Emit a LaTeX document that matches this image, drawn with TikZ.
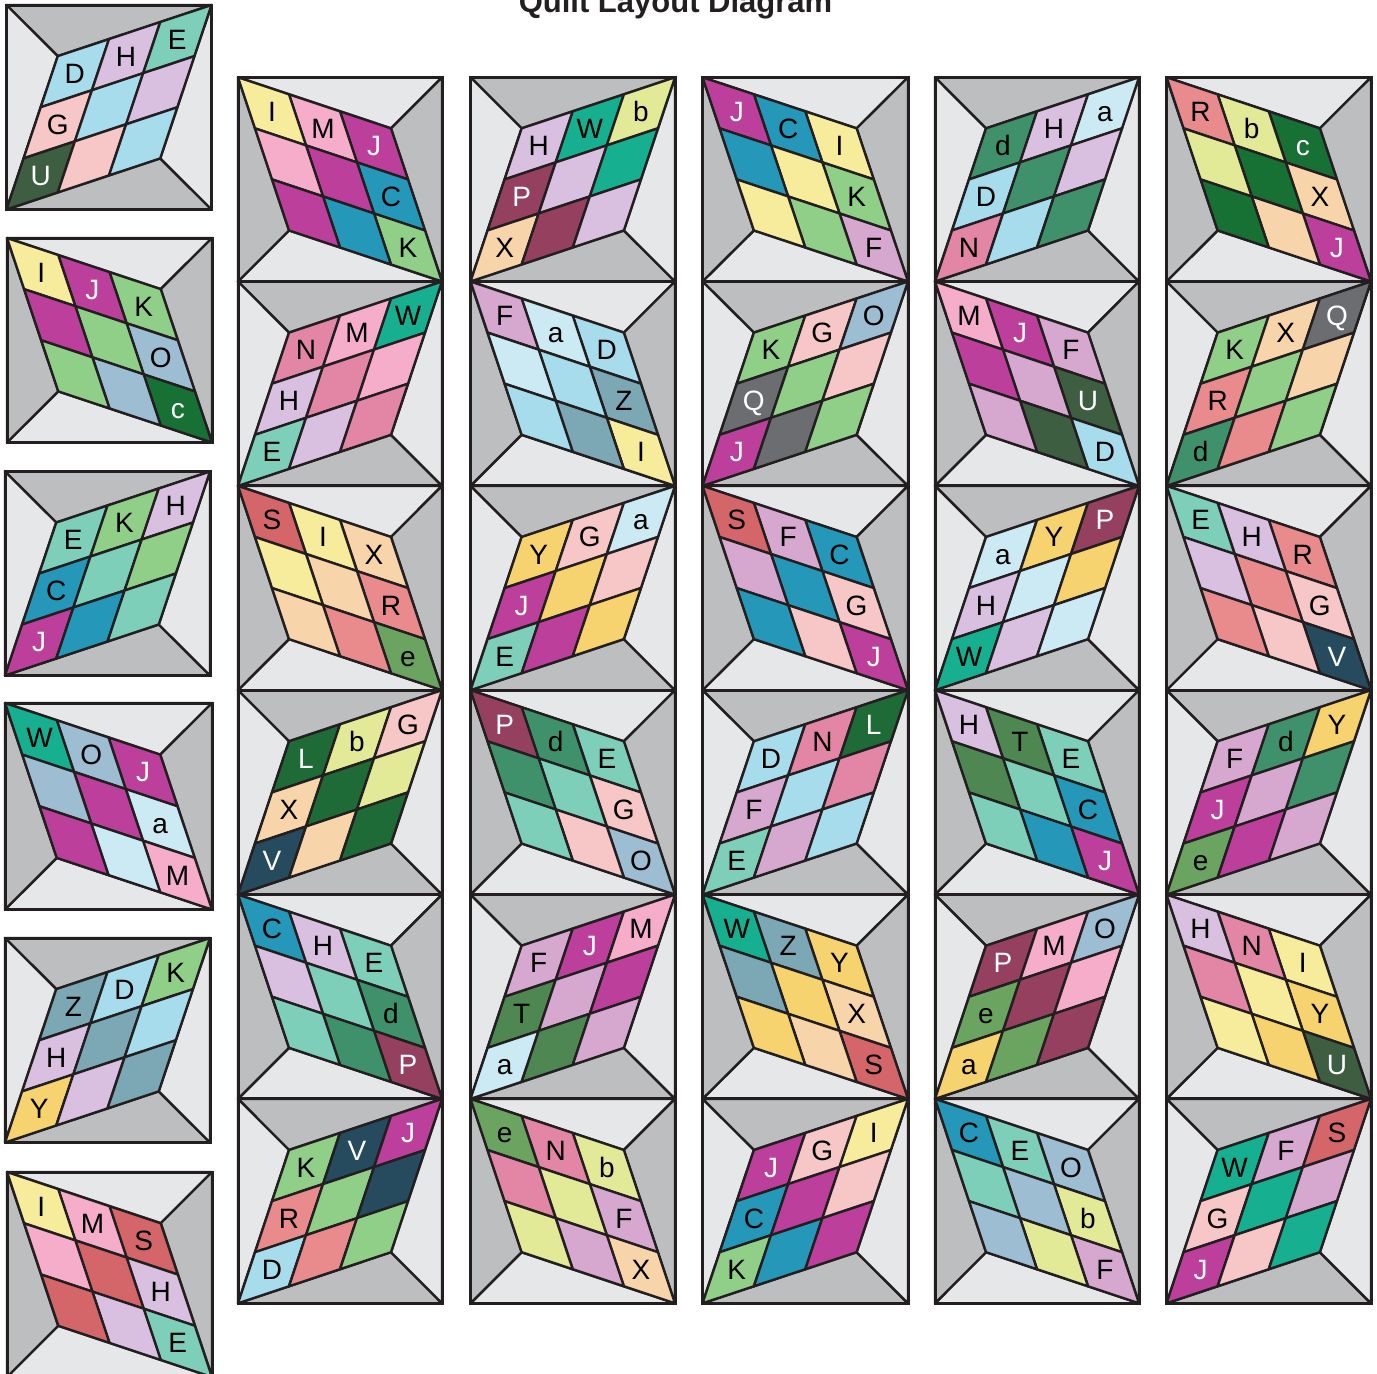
\documentclass[tikz,border=0pt]{standalone}
\usepackage{fontspec}
\setmainfont{Liberation Sans}
\definecolor{qline}{HTML}{231F20}
\definecolor{qdark}{HTML}{BCBEC0}
\definecolor{qlight}{HTML}{E6E7E8}
\newcommand\qdef[3]{\definecolor{qc#1}{HTML}{#2}\colorlet{qt#1}{#3}}
\qdef{C}{2597B8}{black}
\qdef{D}{A6DCEC}{black}
\qdef{E}{7ECFBA}{black}
\qdef{F}{D6A8D0}{black}
\qdef{G}{F7C6C6}{black}
\qdef{H}{D9C0E0}{black}
\qdef{I}{F7EC9C}{black}
\qdef{J}{BB3F9B}{white}
\qdef{K}{90CF88}{black}
\qdef{L}{1E6B37}{white}
\qdef{M}{F5ADCA}{black}
\qdef{N}{E386A6}{black}
\qdef{O}{9DBDD3}{black}
\qdef{P}{964060}{white}
\qdef{Q}{6C6D70}{white}
\qdef{R}{E98A8D}{black}
\qdef{S}{D4666A}{black}
\qdef{T}{4E8752}{black}
\qdef{U}{3D5E41}{white}
\qdef{V}{264A5E}{white}
\qdef{W}{16B091}{black}
\qdef{X}{F8D4AA}{black}
\qdef{Y}{F6D36E}{black}
\qdef{Z}{7BA8B4}{black}
\qdef{a}{CBEAF3}{black}
\qdef{b}{E2E997}{black}
\qdef{c}{177034}{white}
\qdef{d}{3F916B}{black}
\qdef{e}{6BA461}{black}
\tikzset{
  qtri/.style={draw=qline, line width=2.4pt, line join=round},
  qcell/.style={draw=qline, line width=2.4pt, line join=round},
  qbox/.style={draw=qline, line width=3pt, line join=miter},
  qlab/.style={inner sep=0pt, font=\fontsize{28}{30}\selectfont, text height=20pt, text depth=0pt},
  qtitle/.style={font=\bfseries\fontsize{31}{33}\selectfont, text=qline, anchor=base, inner sep=0pt}
}
% labels
\def\qsplit#1#2#3#4#5\relax{%
  \expandafter\def\csname qT0\endcsname{#1}%
  \expandafter\def\csname qT1\endcsname{#2}%
  \expandafter\def\csname qT2\endcsname{#3}%
  \expandafter\def\csname qT-1\endcsname{#4}%
  \expandafter\def\csname qT-2\endcsname{#5}}
% fabric colours
\def\qsplitc#1#2#3#4#5\relax{%
  \expandafter\def\csname qK0\endcsname{#1}%
  \expandafter\def\csname qK1\endcsname{#2}%
  \expandafter\def\csname qK2\endcsname{#3}%
  \expandafter\def\csname qK-1\endcsname{#4}%
  \expandafter\def\csname qK-2\endcsname{#5}}
\newcommand\qblock[8]{%
  \qsplit#7\relax
  \qsplitc#8\relax
  \pgfmathsetmacro\qw{#4-(#2)}%
  \pgfmathsetmacro\qh{#5-(#3)}%
  \if#6F%
    \pgfmathsetmacro\qAx{#2+0.25*\qw}%
    \pgfmathsetmacro\qAy{#3+0.25*\qh}%
    \pgfmathsetmacro\qBx{#2+0.75*\qw}%
    \pgfmathsetmacro\qBy{#3+0.75*\qh}%
    \pgfmathsetmacro\qux{(#4-\qAx)/3}%
    \pgfmathsetmacro\quy{(#3-\qAy)/3}%
    \pgfmathsetmacro\qvx{(#2-\qAx)/3}%
    \pgfmathsetmacro\qvy{(#5-\qAy)/3}%
    \filldraw[qtri,fill=qdark] (#2,#3) -- (#4,#3) -- (\qAx,\qAy) -- cycle;
    \filldraw[qtri,fill=qlight] (#2,#3) -- (\qAx,\qAy) -- (#2,#5) -- cycle;
    \filldraw[qtri,fill=qdark] (#2,#5) -- (#4,#5) -- (\qBx,\qBy) -- cycle;
    \filldraw[qtri,fill=qlight] (#4,#3) -- (#4,#5) -- (\qBx,\qBy) -- cycle;
  \else
    \pgfmathsetmacro\qAx{#2+0.75*\qw}%
    \pgfmathsetmacro\qAy{#3+0.25*\qh}%
    \pgfmathsetmacro\qBx{#2+0.25*\qw}%
    \pgfmathsetmacro\qBy{#3+0.75*\qh}%
    \pgfmathsetmacro\qux{(#2-\qAx)/3}%
    \pgfmathsetmacro\quy{(#3-\qAy)/3}%
    \pgfmathsetmacro\qvx{(#4-\qAx)/3}%
    \pgfmathsetmacro\qvy{(#5-\qAy)/3}%
    \filldraw[qtri,fill=qlight] (#2,#3) -- (#4,#3) -- (\qAx,\qAy) -- cycle;
    \filldraw[qtri,fill=qdark] (#4,#3) -- (#4,#5) -- (\qAx,\qAy) -- cycle;
    \filldraw[qtri,fill=qlight] (#2,#5) -- (#4,#5) -- (\qBx,\qBy) -- cycle;
    \filldraw[qtri,fill=qdark] (#2,#3) -- (#2,#5) -- (\qBx,\qBy) -- cycle;
  \fi
  \foreach \i in {0,1,2}{\foreach \j in {0,1,2}{%
    \pgfmathtruncatemacro\qk{\j-\i}%
    \edef\qcn{qc\csname qK\qk\endcsname}%
    \filldraw[qcell,fill=\qcn]
      ({\qAx+(\j)*(\qux)+(\i)*(\qvx)},{\qAy+(\j)*(\quy)+(\i)*(\qvy)}) --
      ({\qAx+(\j+1)*(\qux)+(\i)*(\qvx)},{\qAy+(\j+1)*(\quy)+(\i)*(\qvy)}) --
      ({\qAx+(\j+1)*(\qux)+(\i+1)*(\qvx)},{\qAy+(\j+1)*(\quy)+(\i+1)*(\qvy)}) --
      ({\qAx+(\j)*(\qux)+(\i+1)*(\qvx)},{\qAy+(\j)*(\quy)+(\i+1)*(\qvy)}) -- cycle;
  }}%
  \foreach \i in {0,1,2}{\foreach \j in {0,1,2}{%
    \ifnum\numexpr\i*\j\relax=0
      \pgfmathtruncatemacro\qk{\j-\i}%
      \edef\qlet{\csname qT\qk\endcsname}%
      \edef\qtn{qt\csname qK\qk\endcsname}%
      \node[qlab,text=\qtn] (q#1-\i-\j) at ({\qAx+(\j+0.5)*(\qux)+(\i+0.5)*(\qvx)},{\qAy+(\j+0.5)*(\quy)+(\i+0.5)*(\qvy)}) {\qlet};
    \fi
  }}%
  \draw[qbox] (#2,#3) rectangle (#4,#5);
}
\begin{document}
\begin{tikzpicture}[x=1pt,y=-1pt]
\useasboundingbox (0,0) rectangle (1377,1374);
\fill[white] (0,0) rectangle (1377,1374);
\clip (0,0) rectangle (1377,1374);
\node[qtitle] (title) at (675.5,12) {Quilt Layout Diagram};
% left column
\qblock{L1}{6.5}{5}{211.5}{209.5}{F}{DHEGU}{DHEGU}
\qblock{L2}{7}{238}{212}{442.5}{B}{KJIOc}{KJIOc}
\qblock{L3}{5}{471.5}{210}{675.5}{F}{EKHCJ}{EKHCJ}
\qblock{L4}{5}{703}{212}{909.5}{B}{JOWaM}{JOWaM}
\qblock{L5}{5}{938}{210}{1142.5}{F}{ZDKHY}{ZDKHY}
\qblock{L6}{7}{1172}{212}{1377}{B}{SMIHE}{SMIHE}
% row 1
\qblock{A1}{238}{77.3}{442}{281.5}{B}{JMICK}{JMICK}
\qblock{A2}{470.5}{77.3}{675}{281.5}{F}{HWbPX}{HWbPX}
\qblock{A3}{702.5}{77.3}{908}{281.5}{B}{ICJKF}{ICJKF}
\qblock{A4}{935}{77.3}{1139}{281.5}{F}{dHaDN}{dHaDN}
\qblock{A5}{1166.5}{77.3}{1371}{281.5}{B}{cbRXJ}{cbRXJ}
% row 2
\qblock{B1}{238}{281.5}{442}{485.9}{F}{NMWHE}{NMWHE}
\qblock{B2}{470.5}{281.5}{675}{485.9}{B}{DaFZI}{DaFZI}
\qblock{B3}{702.5}{281.5}{908}{485.9}{F}{KGOQJ}{KGOQJ}
\qblock{B4}{935}{281.5}{1139}{485.9}{B}{FJMUD}{FJMUD}
\qblock{B5}{1166.5}{281.5}{1371}{485.9}{F}{KXQRd}{KXQRd}
% row 3
\qblock{C1}{238}{485.9}{442}{690.2}{B}{XISRe}{XISRe}
\qblock{C2}{470.5}{485.9}{675}{690.2}{F}{YGaJE}{YGaJE}
\qblock{C3}{702.5}{485.9}{908}{690.2}{B}{CFSGJ}{CFSGJ}
\qblock{C4}{935}{485.9}{1139}{690.2}{F}{aYPHW}{aYPHW}
\qblock{C5}{1166.5}{485.9}{1371}{690.2}{B}{RHEGV}{RHEGV}
% row 4
\qblock{D1}{238}{690.2}{442}{894.6}{F}{LbGXV}{LbGXV}
\qblock{D2}{470.5}{690.2}{675}{894.6}{B}{EdPGO}{EdPGO}
\qblock{D3}{702.5}{690.2}{908}{894.6}{F}{DNLFE}{DNLFE}
\qblock{D4}{935}{690.2}{1139}{894.6}{B}{ETHCJ}{ETHCJ}
\qblock{D5}{1166.5}{690.2}{1371}{894.6}{F}{FdYJe}{FdYJe}
% row 5
\qblock{E1}{238}{894.6}{442}{1098.9}{B}{EHCdP}{EHCdP}
\qblock{E2}{470.5}{894.6}{675}{1098.9}{F}{FJMTa}{FJMTa}
\qblock{E3}{702.5}{894.6}{908}{1098.9}{B}{YZWXS}{YZWXS}
\qblock{E4}{935}{894.6}{1139}{1098.9}{F}{PMOea}{PMOeY}
\qblock{E5}{1166.5}{894.6}{1371}{1098.9}{B}{INHYU}{INHYU}
% row 6
\qblock{F1}{238}{1098.9}{442}{1303.3}{F}{KVJRD}{KVJRD}
\qblock{F2}{470.5}{1098.9}{675}{1303.3}{B}{bNeFX}{bNeFX}
\qblock{F3}{702.5}{1098.9}{908}{1303.3}{F}{JGICK}{JGICK}
\qblock{F4}{935}{1098.9}{1139}{1303.3}{B}{OECbF}{OECbF}
\qblock{F5}{1166.5}{1098.9}{1371}{1303.3}{F}{WFSGJ}{WFSGJ}
\end{tikzpicture}
\end{document}
